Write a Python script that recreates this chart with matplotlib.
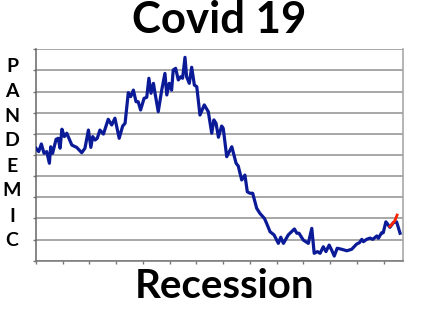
import matplotlib
matplotlib.use("Agg")
import matplotlib.pyplot as plt

# data (x in axis units, tick every 10; y on 0-10 grid)
x_blue = [0, 1, 2, 3, 4, 5, 5.5, 6.2, 7.5, 8.3, 9.0, 9.7, 10.6, 11.5, 13.4, 15.2, 17.1, 18.3,
          19.6, 20.5, 21.2, 22.1, 22.9, 23.9, 25.2, 27.0, 28.3, 29.5, 31.1, 32.4, 33.3, 34.5,
          35.4, 36.4, 37.4, 38.2, 39.1, 40.4, 41.4, 42.2, 43.0, 43.9, 44.5, 45.7, 47.0, 48.2,
          48.9, 49.8, 50.7, 51.3, 52.2, 53.2, 54.1, 54.8, 55.7, 56.3, 57.3, 58.2, 59.2, 60.1,
          61.3, 62.9, 64.4, 65.7, 66.5, 67.3, 68.2, 69.4, 70.0, 71.3, 73.2, 74.8, 75.6, 76.9,
          78.1, 79.0, 80.0, 81.0, 82.5, 83.7, 85.4, 86.2, 87.5, 89.0, 90.6, 91.5, 92.5, 94.3,
          96.6, 97.5, 98.3, 99.9, 101.8, 103.1, 104.0, 105.2, 106.2, 107.4, 108.4, 109.6, 110.5,
          111.5, 112.6, 114.3, 116.2, 118.0, 119.9, 120.9, 121.8, 122.4, 123.6, 124.9, 125.9,
          127.4, 128.0, 129.2, 129.8, 130.8, 132.3, 133.6, 134.8, 136.1]
y_blue = [5.32, 5.16, 5.52, 5.08, 5.16, 4.61, 5.39, 5.08, 5.74, 5.79, 5.32, 6.22, 5.87, 6.03,
          5.47, 5.36, 5.11, 5.32, 6.18, 5.36, 5.87, 5.71, 5.79, 6.18, 5.99, 6.69, 6.42, 6.74,
          5.79, 6.37, 6.50, 7.95, 7.76, 8.07, 7.52, 7.52, 7.13, 7.68, 7.73, 8.63, 7.92, 8.39,
          7.92, 7.05, 8.07, 8.86, 7.84, 8.39, 8.07, 9.02, 9.10, 8.55, 8.70, 8.63, 9.62, 8.70,
          8.39, 9.15, 8.31, 8.23, 6.89, 7.37, 7.05, 6.03, 6.66, 6.50, 5.84, 6.37, 6.26, 4.92,
          5.39, 4.61, 4.48, 3.82, 4.05, 3.26, 3.19, 3.19, 2.48, 2.24, 2.00, 1.77, 1.37, 1.22,
          0.82, 1.11, 0.82, 1.22, 1.50, 1.30, 1.30, 0.98, 0.82, 1.53, 0.35, 0.43, 0.35, 0.66,
          0.43, 0.74, 0.51, 0.22, 0.59, 0.54, 0.47, 0.54, 0.79, 0.85, 1.01, 0.90, 1.01, 1.07,
          1.01, 1.17, 1.06, 1.32, 1.32, 1.84, 1.58, 1.80, 1.84, 1.30]
x_red = [132.3, 134.1, 135.0]
y_red = [1.62, 1.88, 2.16]

title = "Covid 19"
xlabel = "Recession"
ylabel_letters = list("PANDEMIC")

fig = plt.figure(figsize=(4.26, 3.12), dpi=100)
ax = fig.add_axes([36 / 426, 1 - 260.7 / 312, 367 / 426, 211.4 / 312])

ax.plot(x_blue, y_blue, color="#0b1a97", lw=2.3, solid_joinstyle="round", zorder=3)
ax.plot(x_red, y_red, color="#ff2200", lw=2.0, zorder=4)

ax.set_xlim(0, 137.2)
ax.set_ylim(0, 10)
ax.set_yticks(range(0, 11))
ax.set_xticks(range(0, 131, 10))
ax.set_xticklabels([])
ax.set_yticklabels([])
ax.yaxis.grid(True, color="#8f8f8f", lw=1.1)
ax.set_axisbelow(True)
ax.tick_params(axis="both", length=2.5, width=1, color="#777777", direction="out")
ax.spines["top"].set_visible(False)
ax.spines["left"].set_color("#666666")
ax.spines["bottom"].set_color("#777777")
ax.spines["right"].set_color("#a0a0a0")
for s in ax.spines.values():
    s.set_linewidth(1.1)

fam = ["Lato", "DejaVu Sans"]
fig.text(219 / 426, 1 - 33 / 312, title, ha="center", va="baseline",
         fontsize=31.5, fontweight="bold", family=fam)
fig.text(225 / 426, 1 - 298 / 312, xlabel, ha="center", va="baseline",
         fontsize=29, fontweight="bold", family=fam)
ys = [66, 91, 116, 141, 166, 191, 216, 241]
for ch, yy in zip(ylabel_letters, ys):
    fig.text(12 / 426, 1 - yy / 312, ch, ha="center", va="center",
             fontsize=14, fontweight="bold", family=fam)

fig.savefig("out.png", dpi=100)
